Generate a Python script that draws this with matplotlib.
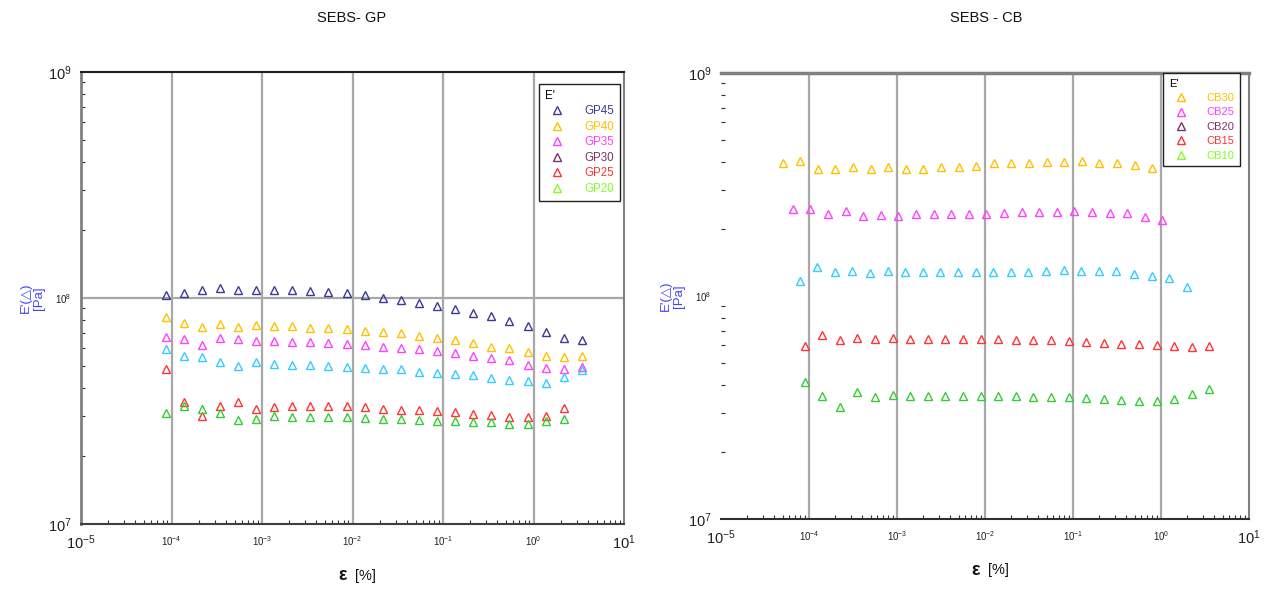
import matplotlib
matplotlib.use('Agg')
import matplotlib.pyplot as plt
from matplotlib.lines import Line2D
from matplotlib.ticker import LogLocator, NullFormatter, FixedLocator, FixedFormatter

plt.rcParams['font.family'] = ['Liberation Sans', 'DejaVu Sans']
plt.rcParams['mathtext.default'] = 'regular'

# ---- SEBS - GP (strain %, E' in Pa) ----
gp_x = [8.6e-5, 1.36e-4, 2.16e-4, 3.4e-4, 5.4e-4, 8.6e-4, 1.36e-3, 2.16e-3, 3.4e-3, 5.4e-3,
        8.6e-3, 1.36e-2, 2.16e-2, 3.4e-2, 5.4e-2, 8.6e-2, 0.136, 0.216, 0.34, 0.54,
        0.86, 1.36, 2.16, 3.4]
gp45 = [1.034, 1.052, 1.089, 1.111, 1.089, 1.089, 1.089, 1.089, 1.078, 1.067, 1.052, 1.031,
        1.0, 0.98, 0.95, 0.924, 0.894, 0.858, 0.829, 0.793, 0.749, 0.708, 0.664, 0.653]
gp40 = [0.826, 0.772, 0.746, 0.766, 0.746, 0.759, 0.753, 0.749, 0.736, 0.736, 0.726, 0.711,
        0.704, 0.697, 0.680, 0.664, 0.653, 0.635, 0.608, 0.598, 0.574, 0.554, 0.548, 0.554]
gp35 = [0.673, 0.657, 0.620, 0.664, 0.657, 0.646, 0.646, 0.639, 0.639, 0.635, 0.629, 0.620,
        0.608, 0.600, 0.593, 0.583, 0.569, 0.554, 0.540, 0.530, 0.505, 0.492, 0.484, 0.495]
gp30 = [0.593, 0.554, 0.548, 0.523, 0.500, 0.523, 0.513, 0.505, 0.505, 0.500, 0.497, 0.492,
        0.487, 0.484, 0.472, 0.467, 0.459, 0.455, 0.441, 0.433, 0.429, 0.419, 0.447, 0.479]
gp25 = [0.487, 0.347, 0.300, 0.334, 0.347, 0.324, 0.329, 0.334, 0.334, 0.332, 0.332, 0.329,
        0.324, 0.321, 0.318, 0.316, 0.312, 0.307, 0.305, 0.298, 0.298, 0.302, 0.327]
gp20 = [0.310, 0.334, 0.324, 0.310, 0.288, 0.292, 0.302, 0.297, 0.297, 0.297, 0.297, 0.295,
        0.292, 0.292, 0.288, 0.285, 0.285, 0.282, 0.282, 0.277, 0.277, 0.287, 0.292]

# ---- SEBS - CB ----
cb30_x = [5.0e-5, 7.9e-5, 1.26e-4, 2.0e-4, 3.2e-4, 5.0e-4, 7.9e-4, 1.26e-3, 2.0e-3, 3.2e-3,
          5.0e-3, 7.9e-3, 1.26e-2, 2.0e-2, 3.2e-2, 5.0e-2, 7.9e-2, 0.126, 0.2, 0.32, 0.5, 0.79]
cb25_x = [6.5e-5, 1.03e-4, 1.63e-4, 2.6e-4, 4.1e-4, 6.5e-4, 1.03e-3, 1.63e-3, 2.6e-3, 4.1e-3,
          6.5e-3, 1.03e-2, 1.63e-2, 2.6e-2, 4.1e-2, 6.5e-2, 0.103, 0.163, 0.26, 0.41, 0.65, 1.03]
cb20_x = [7.8e-5, 1.24e-4, 1.96e-4, 3.1e-4, 4.9e-4, 7.8e-4, 1.24e-3, 1.96e-3, 3.1e-3, 4.9e-3,
          7.8e-3, 1.24e-2, 1.96e-2, 3.1e-2, 4.9e-2, 7.8e-2, 0.124, 0.196, 0.31, 0.49, 0.78,
          1.24, 1.96]
cb15_x = [8.9e-5, 1.41e-4, 2.24e-4, 3.5e-4, 5.6e-4, 8.9e-4, 1.41e-3, 2.24e-3, 3.5e-3, 5.6e-3,
          8.9e-3, 1.41e-2, 2.24e-2, 3.5e-2, 5.6e-2, 8.9e-2, 0.141, 0.224, 0.35, 0.56, 0.89,
          1.41, 2.24, 3.5]
cb30 = [3.94, 4.03, 3.70, 3.71, 3.80, 3.71, 3.78, 3.71, 3.71, 3.78, 3.78, 3.84, 3.94, 3.96,
        3.96, 4.00, 4.00, 4.03, 3.96, 3.94, 3.87, 3.74]
cb25 = [2.455, 2.448, 2.332, 2.405, 2.292, 2.308, 2.292, 2.332, 2.332, 2.332, 2.332, 2.332,
        2.363, 2.373, 2.388, 2.388, 2.413, 2.373, 2.363, 2.349, 2.268, 2.192]
cb20 = [1.171, 1.345, 1.285, 1.295, 1.272, 1.295, 1.285, 1.285, 1.285, 1.285, 1.285, 1.285,
        1.285, 1.285, 1.299, 1.308, 1.295, 1.295, 1.295, 1.255, 1.233, 1.208, 1.101]
cb15 = [0.597, 0.668, 0.635, 0.650, 0.641, 0.650, 0.641, 0.639, 0.639, 0.639, 0.639, 0.639,
        0.635, 0.635, 0.635, 0.628, 0.624, 0.614, 0.609, 0.607, 0.603, 0.597, 0.592, 0.597]
cb10 = [0.413, 0.356, 0.319, 0.370, 0.353, 0.360, 0.356, 0.356, 0.356, 0.356, 0.356, 0.356,
        0.356, 0.353, 0.353, 0.351, 0.348, 0.345, 0.342, 0.339, 0.339, 0.345, 0.363, 0.383]

gp_labels = ['GP45', 'GP40', 'GP35', 'GP30', 'GP25', 'GP20']
gp_legend_colors = ['#3a3a9a', '#ffc000', '#ff40ff', '#803068', '#ff3333', '#80ff20']
cb_labels = ['CB30', 'CB25', 'CB20', 'CB15', 'CB10']
cb_legend_colors = ['#ffc000', '#ff40ff', '#803068', '#ff3333', '#80ff20']

fig = plt.figure(figsize=(12.68, 5.89), dpi=100)
ax1 = fig.add_axes([81 / 1268, 65 / 589, 543 / 1268, 452 / 589])
ax2 = fig.add_axes([721 / 1268, 70 / 589, 528 / 1268, 446 / 589])

ms = 6
def tri(ax, x, y, c):
    ax.plot(x, [v * 1e8 for v in y], ls='none', marker='^', ms=ms, mfc='none',
            mec=c, mew=1.0, zorder=3)

tri(ax1, gp_x, gp45, '#3a3a9a')
tri(ax1, gp_x, gp40, '#ffc000')
tri(ax1, gp_x, gp35, '#ff40ff')
tri(ax1, gp_x, gp30, '#33ccff')
tri(ax1, gp_x[:23], gp25, '#ff3333')
tri(ax1, gp_x[:23], gp20, '#33cc33')

tri(ax2, cb30_x, cb30, '#ffc000')
tri(ax2, cb25_x, cb25, '#ff40ff')
tri(ax2, cb20_x, cb20, '#33ccff')
tri(ax2, cb15_x, cb15, '#ff3333')
tri(ax2, cb15_x, cb10, '#33cc33')

for ax in (ax1, ax2):
    ax.set_xscale('log')
    ax.set_yscale('log')
    ax.set_xlim(1e-5, 10)
    ax.set_ylim(1e7, 1e9)
    for xv in [1e-4, 1e-3, 1e-2, 1e-1, 1e0]:
        ax.axvline(xv, color='#a8a8a8', lw=1.6, zorder=1)
    ax.xaxis.set_major_locator(FixedLocator([1e-5, 1e-4, 1e-3, 1e-2, 1e-1, 1e0, 1e1]))
    ax.xaxis.set_major_formatter(FixedFormatter(
        ['$10^{-5}$', '$10^{-4}$', '$10^{-3}$', '$10^{-2}$', '$10^{-1}$', '$10^{0}$', '$10^{1}$']))
    ax.yaxis.set_major_locator(FixedLocator([1e7, 1e8, 1e9]))
    ax.yaxis.set_major_formatter(FixedFormatter(['$10^{7}$', '$10^{8}$', '$10^{9}$']))
    ax.xaxis.set_minor_locator(LogLocator(base=10, subs=range(2, 10)))
    ax.yaxis.set_minor_locator(LogLocator(base=10, subs=range(2, 10)))
    ax.xaxis.set_minor_formatter(NullFormatter())
    ax.yaxis.set_minor_formatter(NullFormatter())
    ax.tick_params(which='both', direction='in', color='#303030')
    ax.tick_params(which='major', length=0, pad=7)
    ax.tick_params(which='minor', length=3, width=0.8)
    for i, lab in enumerate(ax.get_xticklabels()):
        lab.set_fontsize(10.5 if i in (0, 6) else 7)
        lab.set_color('#202020')
    for i, lab in enumerate(ax.get_yticklabels()):
        lab.set_fontsize(10.5 if i in (0, 2) else 7)
        lab.set_color('#202020')
    ax.set_ylabel("E'(\u25b3)\n[Pa]", color='#4040ff', fontsize=9.5, labelpad=2,
                  linespacing=1.1)
    ax.text(0.49, -0.115, '\u03b5', transform=ax.transAxes, fontsize=13,
            fontweight='bold', ha='right', va='center', color='#111111')
    ax.text(0.505, -0.115, '[%]', transform=ax.transAxes, fontsize=10.5,
            ha='left', va='center', color='#111111')

ax1.axhline(1e8, color='#a8a8a8', lw=1.6, zorder=1)
ax1.spines['left'].set_color('#808080')
ax1.spines['left'].set_linewidth(2)
ax1.spines['right'].set_color('#808080')
ax1.spines['right'].set_linewidth(1.5)
ax1.spines['top'].set_color('#202020')
ax1.spines['top'].set_linewidth(1.5)
ax1.spines['bottom'].set_color('#404040')
ax1.spines['bottom'].set_linewidth(1.5)

ax2.spines['left'].set_visible(False)
ax2.spines['top'].set_color('#808080')
ax2.spines['top'].set_linewidth(2.5)
ax2.spines['right'].set_color('#808080')
ax2.spines['right'].set_linewidth(1.5)
ax2.spines['bottom'].set_color('#303030')
ax2.spines['bottom'].set_linewidth(1.5)

fig.text(352 / 1268, 1 - 18 / 589, 'SEBS- GP', ha='center', va='center', fontsize=10.5,
         color='#111111')
fig.text(986 / 1268, 1 - 18 / 589, 'SEBS - CB', ha='center', va='center', fontsize=10.5,
         color='#111111')

def make_legend(ax, labels, colors, anchor, fs, spacing, pad):
    handles = [Line2D([], [], ls='none', marker='^', ms=6, mfc='none', mec=c, mew=1.0)
               for c in colors]
    leg = ax.legend(handles, labels, loc='upper right', bbox_to_anchor=anchor,
                    title="E'", fontsize=fs, title_fontsize=fs, labelcolor=colors,
                    frameon=True, fancybox=False, edgecolor='#202020', framealpha=1,
                    handlelength=2.2, handletextpad=1.2, labelspacing=spacing,
                    borderpad=0.5, borderaxespad=pad, alignment='left')
    leg.get_frame().set_linewidth(1.0)
    leg.set_zorder(5)
    return leg

make_legend(ax1, gp_labels, gp_legend_colors, (0.996, 0.978), 8.3, 0.3, 0.2)
make_legend(ax2, cb_labels, cb_legend_colors, (0.983, 1.0), 8.0, 0.4, 0.0)

fig.savefig('out.png', dpi=100, facecolor='white')
